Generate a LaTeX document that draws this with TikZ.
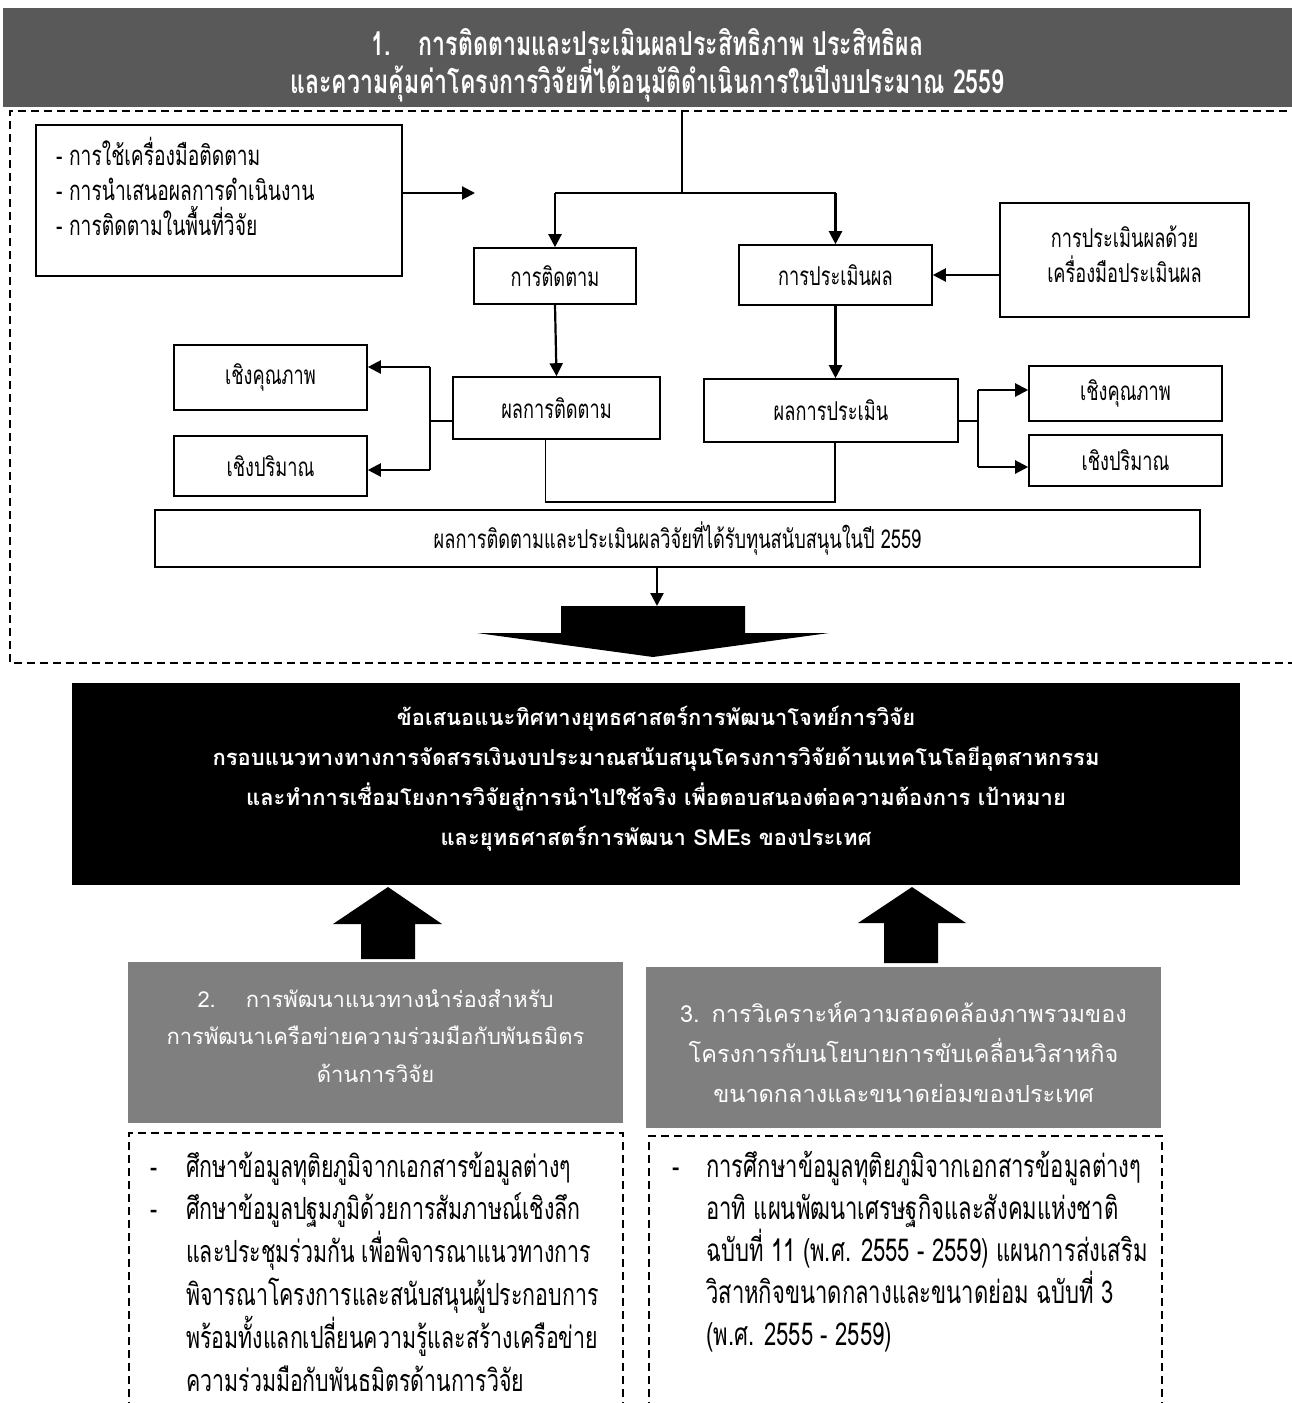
\documentclass[tikz,border=0pt]{standalone}
\usepackage{fontspec}
\usetikzlibrary{arrows.meta}
\newfontfamily\thn[Script=Thai,FakeStretch=0.7]{Loma}
\newfontfamily\thw[Script=Thai]{Loma}
\definecolor{hdrgray}{HTML}{595959}
\definecolor{secgray}{HTML}{7F7F7F}

\begin{document}
\begin{tikzpicture}[x=1pt,y=-1pt,
  box/.style={draw=black, line width=1.6pt, inner sep=0pt, align=center,
    font=\thn\fontsize{26}{35}\selectfont},
  boxtext/.style={inner sep=0pt, align=center},
  arr/.style={line width=2.2pt, -{Triangle[length=13pt,width=13pt]}},
  link/.style={line width=1.8pt},
  thin link/.style={line width=1.3pt},
  frame/.style={line width=1.4pt, dash pattern=on 8pt off 5pt},
  blockarrow/.style={fill=black},
  listtext/.style={anchor=base west, inner sep=0pt}
]
\useasboundingbox (0,0) rectangle (1292,1403);

% ---------- section 1 heading ----------
\node[fill=hdrgray, minimum width=1289pt, minimum height=99pt, inner sep=0pt]
  (hdr) at (647.5,57.5) {};
\node[boxtext, text=white, font=\thn\bfseries\fontsize{33}{38}\selectfont]
  (hdrtext) at (647.5,65)
  {1.\hspace{28pt}การติดตามและประเมินผลประสิทธิภาพ ประสิทธิผล\\
   และความคุ้มค่าโครงการวิจัยที่ได้อนุมัติดำเนินการในปีงบประมาณ 2559};

% dashed frame around the monitoring part
\draw[frame] (1300,111) -- (10,111) -- (10,663) -- (1300,663);

% ---------- monitoring / evaluation flow ----------
\node[box, minimum width=366pt, minimum height=151pt] (tools) at (219,200.5) {};
\node[listtext] (toolstext) at (56,165)
  {\parbox[t]{330pt}{\thn\fontsize{27.5}{35}\selectfont\raggedright
   - การใช้เครื่องมือติดตาม\\- การนำเสนอผลการดำเนินงาน\\- การติดตามในพื้นที่วิจัย}};

\node[box, minimum width=162pt, minimum height=56pt] (mon) at (555,276) {การติดตาม};
\node[box, minimum width=193pt, minimum height=60pt] (eva) at (835.5,275) {การประเมินผล};
\node[box, minimum width=249pt, minimum height=114pt] (evtool) at (1124.5,260) {};
\node[boxtext, font=\thn\fontsize{26}{35}\selectfont] (evtooltext) at (1124.5,254)
  {การประเมินผลด้วย\\เครื่องมือประเมินผล};

\node[box, minimum width=207pt, minimum height=62pt] (monres) at (556.5,408) {ผลการติดตาม};
\node[box, minimum width=254pt, minimum height=63pt] (evres) at (831,410.5) {ผลการประเมิน};

\node[box, minimum width=193pt, minimum height=65pt] (lq) at (270.5,377.5) {เชิงคุณภาพ};
\node[box, minimum width=193pt, minimum height=60pt] (lv) at (270.5,466) {เชิงปริมาณ};
\node[box, minimum width=193pt, minimum height=55pt] (rq) at (1125.5,393.5) {เชิงคุณภาพ};
\node[box, minimum width=193pt, minimum height=51pt] (rv) at (1125.5,460.5) {เชิงปริมาณ};

\node[box, minimum width=1045pt, minimum height=57pt] (summary) at (677.5,538.5)
  {ผลการติดตามและประเมินผลวิจัยที่ได้รับทุนสนับสนุนในปี 2559};

% branch from the heading into monitoring and evaluation
\coordinate (top) at (682,111);
\coordinate (split) at (682,193);
\coordinate (splitL) at (555,193);
\coordinate (splitR) at (835.5,193);
\draw[thin link] (top) -- (split);
\draw[link] (splitL) -- (splitR);
\draw[arr] (splitL) -- (mon.north);
\draw[arr] (splitR) -- (eva.north);

% tools feed the branch
\coordinate (toolsin) at (475,193);
\draw[arr] (tools.east |- toolsin) -- (toolsin);
\draw[arr] (evtool.west |- eva.east) -- (eva.east);

% results
\draw[arr] (mon.south) -- (monres.north);
\draw[arr] (eva.south) -- (eva.south |- evres.north);

% left fan-out
\coordinate (lj) at (430,421);
\coordinate (ljt) at (430,367);
\coordinate (ljb) at (430,470);
\draw[link] (monres.west |- lj) -- (lj);
\draw[link] (ljt) -- (ljb);
\draw[arr] (ljt) -- (lq.east |- ljt);
\draw[arr] (ljb) -- (lv.east |- ljb);

% right fan-out
\coordinate (rj) at (978,421);
\coordinate (rjt) at (978,390);
\coordinate (rjb) at (978,467);
\draw[link] (evres.east |- rj) -- (rj);
\draw[link] (rjt) -- (rjb);
\draw[arr] (rjt) -- (rq.west |- rjt);
\draw[arr] (rjb) -- (rv.west |- rjb);

% join of both results
\coordinate (jl) at (545.5,502);
\coordinate (jr) at (835,502);
\draw[thin link] (monres.south -| jl) -- (jl) -- (jr) -- (evres.south -| jr);

% summary to block arrow
\coordinate (down) at (657,606);
\draw[arr] (summary.south -| down) -- (down);
\fill[blockarrow] (561,606) -- (745,606) -- (745,633) -- (829,633) -- (653,657)
  -- (477,633) -- (561,633) -- cycle;

% ---------- recommendation ----------
\node[fill=black, minimum width=1168pt, minimum height=202pt, inner sep=0pt]
  (rec) at (656,784) {};
\node[boxtext, text=white, font=\thw\bfseries\fontsize{22}{40}\selectfont]
  (rectext) at (656,779)
  {ข้อเสนอแนะทิศทางยุทธศาสตร์การพัฒนาโจทย์การวิจัย\\
   กรอบแนวทางทางการจัดสรรเงินงบประมาณสนับสนุนโครงการวิจัยด้านเทคโนโลยีอุตสาหกรรม\\
   และทำการเชื่อมโยงการวิจัยสู่การนำไปใช้จริง เพื่อตอบสนองต่อความต้องการ เป้าหมาย\\
   และยุทธศาสตร์การพัฒนา SMEs ของประเทศ};

% ---------- sections 2 and 3 ----------
\node[fill=secgray, minimum width=495pt, minimum height=161pt, inner sep=0pt]
  (sec2) at (375.5,1042.5) {};
\node[boxtext, text=white, font=\thw\fontsize{22}{37.5}\selectfont]
  (sec2text) at (375.5,1036)
  {2.\hspace{30pt}การพัฒนาแนวทางนำร่องสำหรับ\\
   การพัฒนาเครือข่ายความร่วมมือกับพันธมิตร\\
   ด้านการวิจัย};
\node[fill=secgray, minimum width=515pt, minimum height=161pt, inner sep=0pt]
  (sec3) at (903.5,1047.5) {};
\node[boxtext, text=white, font=\thw\fontsize{23.5}{40}\selectfont]
  (sec3text) at (903.5,1052)
  {3.\hspace{12pt}การวิเคราะห์ความสอดคล้องภาพรวมของ\\
   โครงการกับนโยบายการขับเคลื่อนวิสาหกิจ\\
   ขนาดกลางและขนาดย่อมของประเทศ};

% upward block arrows into the recommendation
\fill[blockarrow] (361,959) -- (415,959) -- (415,924) -- (442,924) -- (388,887)
  -- (333,924) -- (361,924) -- cycle;
\fill[blockarrow] (884,963) -- (938,963) -- (938,923) -- (966,923) -- (912,887)
  -- (858,923) -- (884,923) -- cycle;

% dashed detail boxes, open at the bottom
\draw[frame] (129,1410) -- (129,1133) -- (623,1133) -- (623,1410);
\draw[frame] (649,1410) -- (649,1136) -- (1162,1136) -- (1162,1410);

\node[listtext] (list2) at (150,1177)
  {\parbox[t]{470pt}{\thn\fontsize{30.5}{42.8}\selectfont\raggedright
   \makebox[36pt][l]{-}ศึกษาข้อมูลทุติยภูมิจากเอกสารข้อมูลต่างๆ\\
   \makebox[36pt][l]{-}ศึกษาข้อมูลปฐมภูมิด้วยการสัมภาษณ์เชิงลึก\\
   \hspace*{36pt}และประชุมร่วมกัน เพื่อพิจารณาแนวทางการ\\
   \hspace*{36pt}พิจารณาโครงการและสนับสนุนผู้ประกอบการ\\
   \hspace*{36pt}พร้อมทั้งแลกเปลี่ยนความรู้และสร้างเครือข่าย\\
   \hspace*{36pt}ความร่วมมือกับพันธมิตรด้านการวิจัย}};

\node[listtext] (list3) at (672,1177)
  {\parbox[t]{490pt}{\thn\fontsize{31.5}{42}\selectfont\raggedright
   \makebox[34pt][l]{-}การศึกษาข้อมูลทุติยภูมิจากเอกสารข้อมูลต่างๆ\\
   \hspace*{34pt}อาทิ แผนพัฒนาเศรษฐกิจและสังคมแห่งชาติ\\
   \hspace*{34pt}ฉบับที่ 11 (พ.ศ. 2555 - 2559) แผนการส่งเสริม\\
   \hspace*{34pt}วิสาหกิจขนาดกลางและขนาดย่อม ฉบับที่ 3\\
   \hspace*{34pt}(พ.ศ. 2555 - 2559)}};
\end{tikzpicture}
\end{document}
